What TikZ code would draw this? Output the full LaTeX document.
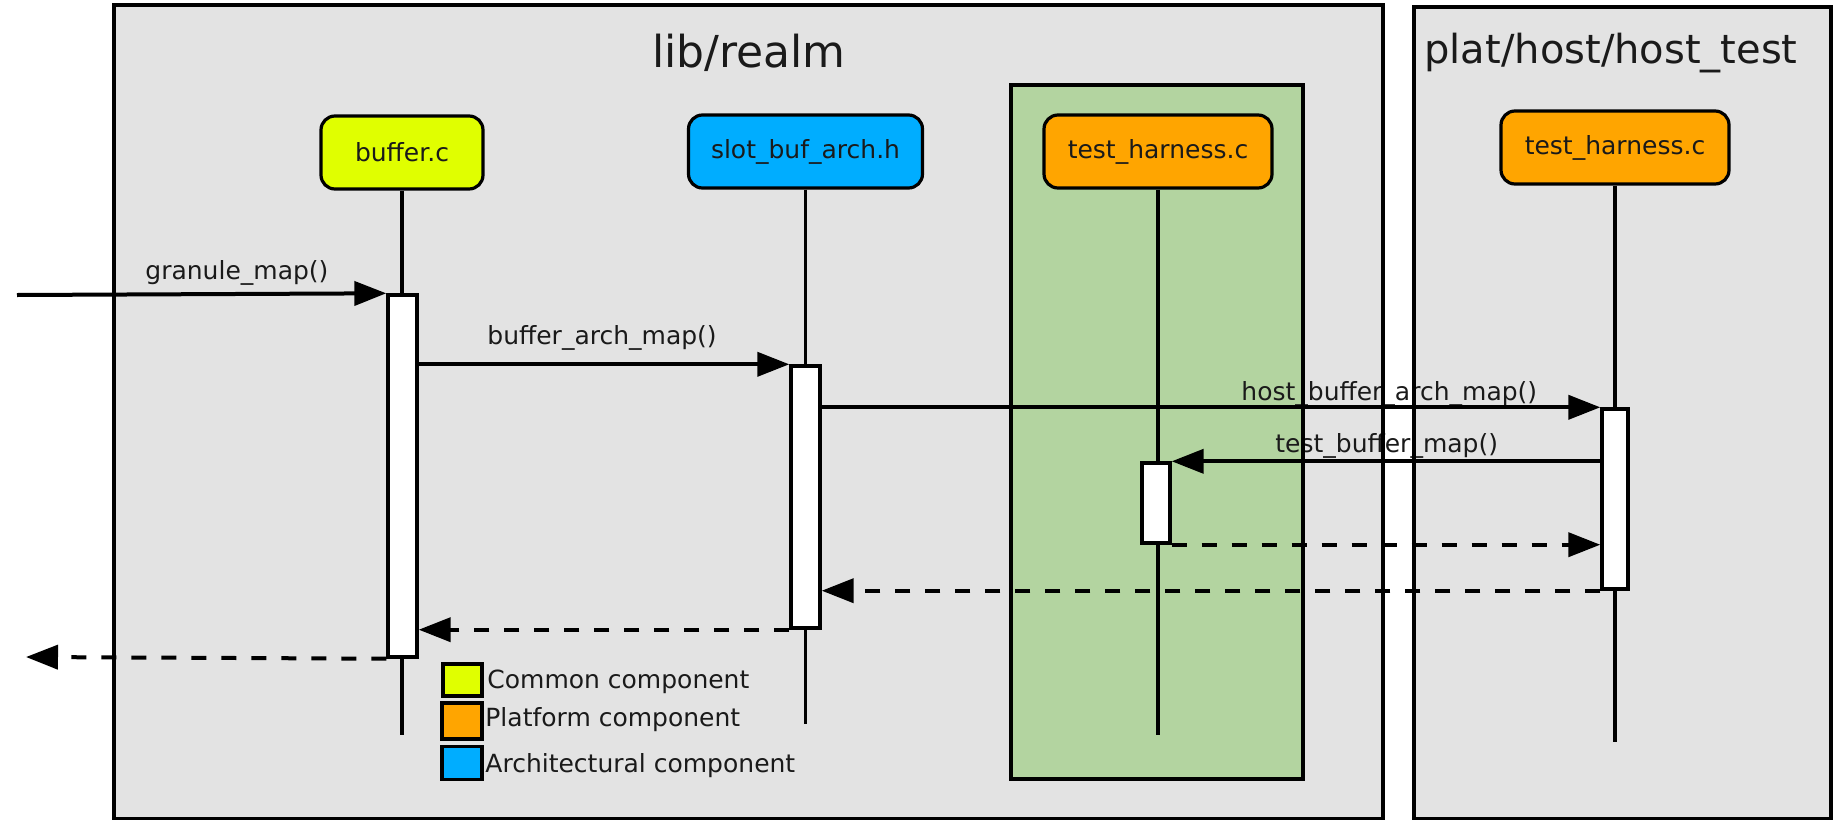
\documentclass[tikz,border=0pt]{standalone}
\usepackage{fontspec}
\setmainfont{DejaVu Sans}
\usetikzlibrary{arrows.meta}

\definecolor{areagray}{HTML}{E3E3E3}
\definecolor{testgreen}{HTML}{B3D4A0}
\definecolor{commonyellow}{HTML}{E0FF00}
\definecolor{platorange}{HTML}{FFA500}
\definecolor{archblue}{HTML}{00ADFF}
\definecolor{ink}{HTML}{1A1A1A}

\tikzset{
  lbl/.style={font=\fontsize{12.5pt}{15pt}\selectfont, inner sep=0pt, text=ink},
  area/.style={inner sep=0pt, anchor=north west},
  frame/.style={line width=1.8pt},
  comp/.style={draw, line width=1.6pt, rounded corners=7pt, lbl,
               minimum height=36.5pt},
  life/.style={line width=1.7pt},
  actbar/.style={draw, fill=white, line width=1.7pt, inner sep=0pt,
                 minimum width=14.5pt},
  msg/.style={line width=2pt, -{Triangle[length=16pt,width=12pt]}},
  ret/.style={msg, dash pattern=on 7.5pt off 7.5pt},
  keybox/.style={draw, line width=1.7pt, inner sep=0pt, minimum width=19.5pt},
}

\begin{document}
\begin{tikzpicture}[x=0.5pt, y=-0.5pt]
\useasboundingbox (0,0) rectangle (1839,819);

% package areas (fills first, frames later so they sit above the labels)
\node[area, fill=areagray, minimum width=634pt, minimum height=406.5pt] (realm) at (114,5) {};
\node[area, fill=areagray, minimum width=208pt, minimum height=405.5pt] (plat) at (1414,7) {};
\node[area, fill=testgreen, minimum width=145.5pt, minimum height=346.5pt] (green) at (1011,85) {};

\node[inner sep=0pt, anchor=base, text=ink, font=\fontsize{22pt}{26pt}\selectfont] (realmtitle) at (749,67) {lib/realm};
\node[inner sep=0pt, anchor=base, text=ink, font=\fontsize{20pt}{24pt}\selectfont] (plattitle) at (1611,63) {plat/host/host\_test};

% message labels
\node[lbl, anchor=base west] (l1) at (145,279) {granule\_map()};
\node[lbl, anchor=base west] (l2) at (487,344) {buffer\_arch\_map()};
\node[lbl, anchor=base west] (l3) at (1241,400) {host\_buffer\_arch\_map()};
\node[lbl, anchor=base west] (l4) at (1275,452) {test\_buffer\_map()};

% area frames
\draw[frame] (realm.north west) rectangle (realm.south east);
\draw[frame] (plat.north west) rectangle (plat.south east);
\draw[frame] (green.north west) rectangle (green.south east);

% components
\node[comp, fill=commonyellow, minimum width=81pt] (buf) at (402,152.5) {buffer.c};
\node[comp, fill=archblue, minimum width=117pt] (slot) at (805.5,151.5) {slot\_buf\_arch.h};
\node[comp, fill=platorange, minimum width=114pt] (th) at (1158,151.5) {test\_harness.c};
\node[comp, fill=platorange, minimum width=114pt] (hth) at (1615,147.5) {test\_harness.c};

% lifelines
\path (buf.south) ++(0,544) coordinate (bufend);
\path (slot.south) ++(0,534) coordinate (slotend);
\path (th.south) ++(0,545) coordinate (thend);
\path (hth.south) ++(0,556) coordinate (hthend);
\draw[life] (buf.south) -- (bufend);
\draw[life] (slot.south) -- (slotend);
\draw[life] (th.south) -- (thend);
\draw[life] (hth.south) -- (hthend);

% activation bars
\node[actbar, minimum height=181pt] (bbar) at (402.5,476) {};
\node[actbar, minimum height=131pt] (sbar) at (805.5,497) {};
\node[actbar, minimum width=14pt, minimum height=40pt] (tbar) at (1156,503) {};
\node[actbar, minimum width=13pt, minimum height=90pt] (hbar) at (1615,499) {};

% calls
\coordinate (inL) at (17,295);
\coordinate (outL) at (26,657);
\draw[msg] (inL) -- (bbar.north west);
\draw[msg] (bbar.east |- sbar.north) -- (sbar.north west);
\draw[msg] (sbar.east |- hbar.north) -- (hbar.north west);
\draw[msg] (hbar.west |- tbar.north) -- (tbar.north east);

% returns
\draw[ret] (tbar.south east) -- (hbar.west |- tbar.south);
\draw[ret] (hbar.south west) -- (sbar.east |- hbar.south);
\draw[ret] (sbar.south west) -- (bbar.east |- sbar.south);
\draw[ret] (bbar.south west) -- (outL);

% legend
\node[keybox, fill=commonyellow, minimum height=16pt] (k1) at (462.5,680) {};
\node[keybox, fill=platorange, minimum width=20pt, minimum height=18pt] (k2) at (462,721) {};
\node[keybox, fill=archblue, minimum width=20pt, minimum height=16.5pt] (k3) at (462,763) {};
\node[lbl, anchor=base west] (t1) at (487,688) {Common component};
\node[lbl, anchor=base west] (t2) at (485,726) {Platform component};
\node[lbl, anchor=base west] (t3) at (485,772) {Architectural component};
\end{tikzpicture}
\end{document}
